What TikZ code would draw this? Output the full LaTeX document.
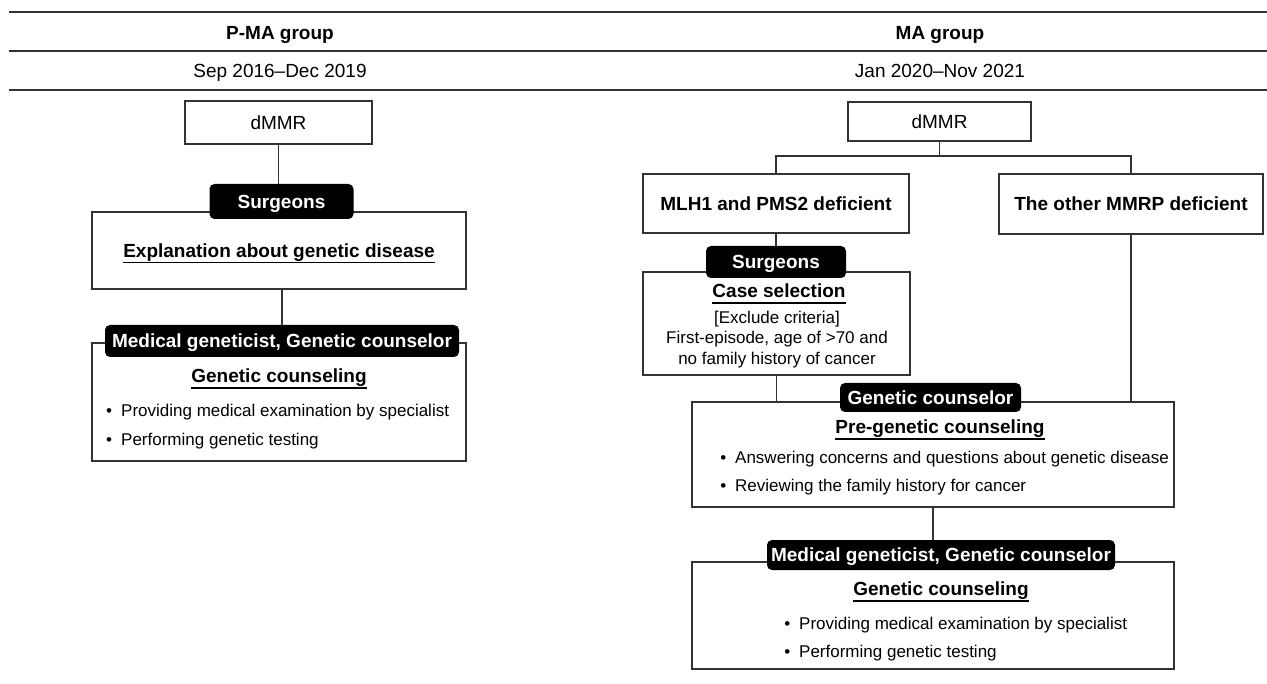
\documentclass[tikz,border=0pt]{standalone}
\usepackage{fontspec}
\setmainfont{Liberation Sans}
\newcommand\myul[1]{\setbox0=\hbox{#1}\leavevmode\rlap{\vrule height -4.3pt depth 6.0pt width \wd0}\box0}
\tikzset{
  rulel/.style={line width=1.7pt, draw=black!80},
  conn/.style={line width=1.4pt, draw=black!80},
  box/.style={draw=black!80, line width=1.4pt, inner sep=0pt, rectangle, font=\fontsize{19}{22}\selectfont, text height=13.6pt, text depth=0pt},
  bbox/.style={box, font=\fontsize{19}{22}\selectfont\bfseries},
  tag/.style={fill=black, rounded corners=5pt, text=white, font=\fontsize{19}{22}\selectfont\bfseries, inner sep=0pt, text height=13.6pt, text depth=0pt},
  hd/.style={font=\fontsize{19}{22}\selectfont\bfseries, inner sep=0pt, text height=13.6pt, text depth=0pt},
  rg/.style={font=\fontsize{19}{22}\selectfont, inner sep=0pt, text height=13.6pt, text depth=0pt},
  smc/.style={font=\fontsize{17}{20}\selectfont, inner sep=0pt, text height=12.2pt, text depth=0pt},
  bul/.style={font=\fontsize{17}{20}\selectfont, inner sep=0pt, anchor=base west},
}
\begin{document}
\begin{tikzpicture}[x=1pt,y=-1pt]
\useasboundingbox (0,0) rectangle (1267,684);
% header rules
\coordinate (r1a) at (9,12);  \coordinate (r1b) at (1267,12);
\coordinate (r2a) at (9,51);  \coordinate (r2b) at (1267,51);
\coordinate (r3a) at (9,90);  \coordinate (r3b) at (1267,90);
\draw[rulel] (r1a) -- (r1b);
\draw[rulel] (r2a) -- (r2b);
\draw[rulel] (r3a) -- (r3b);
\node[hd] (hL) at (280,32.5) {P-MA group};
\node[rg] (dL) at (280,71) {Sep 2016–Dec 2019};
\node[hd] (hR) at (940,32.5) {MA group};
\node[rg] (dR) at (940,71) {Jan 2020–Nov 2021};

% ---------- left column ----------
\node[box, minimum width=187pt, minimum height=43pt] (dmmrL) at (278.5,122.5) {dMMR};
\node[bbox, minimum width=374pt, minimum height=77pt] (explL) at (279,250.5) {\myul{Explanation about genetic disease}};
\node[box, minimum width=374pt, minimum height=118pt] (gcL) at (279,402) {};
\node[tag, minimum width=144pt, minimum height=35pt] (surgL) at (281.5,201.5) {Surgeons};
\node[tag, minimum width=354pt, minimum height=32pt] (medL) at (282,341) {Medical geneticist, Genetic counselor};
\node[hd] (gcLt) at (279,376) {\myul{Genetic counseling}};
\node[bul] (gcL1) at (121,416.1) {\llap{•\hspace{9pt}}Providing medical examination by specialist};
\node[bul] (gcL2) at (121,445.1) {\llap{•\hspace{9pt}}Performing genetic testing};
\draw[conn] (dmmrL.south) -- (dmmrL.south |- surgL.north);
\draw[conn] (medL.north |- explL.south) -- (medL.north);

% ---------- right column ----------
\node[box, minimum width=183pt, minimum height=39pt] (dmmrR) at (939.5,121.5) {dMMR};
\coordinate (br) at (939.5,156);
\node[bbox, minimum width=266pt, minimum height=59pt] (mlh) at (776,203.5) {MLH1 and PMS2 deficient};
\node[bbox, minimum width=264pt, minimum height=60pt] (other) at (1131,204) {The other MMRP deficient};
\node[box, minimum width=267pt, minimum height=103pt] (case) at (776.5,323.5) {};
\node[box, minimum width=482pt, minimum height=105pt] (pre) at (933,454.5) {};
\node[box, minimum width=482pt, minimum height=107pt] (gcR) at (933,615.5) {};
\node[tag, minimum width=140pt, minimum height=32pt] (surgR) at (776,262) {Surgeons};
\node[tag, minimum width=181pt, minimum height=29pt] (gcoR) at (930.5,397.5) {Genetic counselor};
\node[tag, minimum width=348pt, minimum height=30pt] (medR) at (941,555) {Medical geneticist, Genetic counselor};

\node[hd] (caset) at (779,291) {\myul{Case selection}};
\node[smc] (c1) at (777,317) {[Exclude criteria]};
\node[smc] (c2) at (777,337.5) {First-episode, age of >70 and};
\node[smc] (c3) at (777,358) {no family history of cancer};

\node[hd] (pret) at (940,427) {\myul{Pre-genetic counseling}};
\node[bul] (pre1) at (735,463.1) {\llap{•\hspace{9pt}}Answering concerns and questions about genetic disease};
\node[bul] (pre2) at (735,491.1) {\llap{•\hspace{9pt}}Reviewing the family history for cancer};

\node[hd] (gcRt) at (941,589) {\myul{Genetic counseling}};
\node[bul] (gcR1) at (799,629.1) {\llap{•\hspace{9pt}}Providing medical examination by specialist};
\node[bul] (gcR2) at (799,657.1) {\llap{•\hspace{9pt}}Performing genetic testing};

\draw[conn] (dmmrR.south) -- (br);
\draw[conn] (mlh.north) -- (mlh.north |- br) -- (other.north |- br) -- (other.north);
\draw[conn] (mlh.south) -- (surgR.north);
\draw[conn] (case.south) -- (case.south |- pre.north);
\draw[conn] (other.south) -- (other.south |- pre.north);
\draw[conn] (pre.south) -- (pre.south |- medR.north);
\end{tikzpicture}
\end{document}
